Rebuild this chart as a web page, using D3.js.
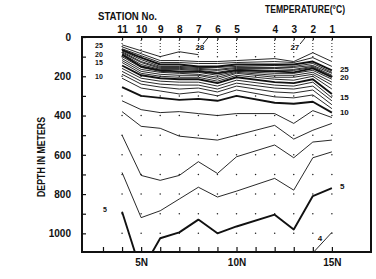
<!DOCTYPE html>
<html>
<head>
<meta charset="utf-8">
<script src="https://cdn.jsdelivr.net/npm/d3@7"></script>
<style>
  body { margin: 0; background: #fff; }
  svg text { font-family: "Liberation Sans", "DejaVu Sans Condensed", sans-serif; font-weight: bold; fill: #111; }
</style>
</head>
<body>
<svg id="chart" width="376" height="279"></svg>
<script>
// stations along the section (latitude, station number)
const stationLat = [4, 5, 6, 7, 8, 9, 10, 12, 13, 14, 15];
const stationNo = ["11", "10", "9", "8", "7", "6", "5", "4", "3", "2", "1"];
const latTicks = [3, 4, 5, 6, 7, 8, 9, 10, 11, 12, 13, 14, 15];
const latLabelled = [5, 10, 15];
const depthTicks = [0, 100, 200, 300, 400, 500, 600, 700, 800, 900, 1000];
const depthLabelled = [0, 200, 400, 600, 800, 1000];
const gridLat = [4, 5, 6, 7, 8, 9, 10, 11, 12, 13, 14, 15];
const gridDepth = [100, 200, 300, 400, 500, 600, 700, 800, 900, 1000];

// isotherm depths (m) at each station, null where the isotherm is absent
const t28 = [40, 70, 100, 75, 90, null, null, null, null, null, null];
const t27 = [50, 85, 120, 120, 125, 125, 120, 110, 125, 80, 125];
const t26 = [60, 95, 130, 130, 135, 135, 130, 125, 130, 105, 150];
const t25 = [65, 105, 140, 140, 150, 150, 140, 140, 140, 125, 170];
const t24 = [70, 115, 150, 150, 155, 155, 150, 145, 150, 135, 180];
const t23 = [75, 125, 155, 155, 160, 165, 155, 155, 155, 145, 185];
const t22 = [80, 130, 160, 160, 165, 170, 160, 160, 165, 150, 195];
const t21 = [85, 140, 165, 165, 170, 180, 165, 170, 170, 155, 200];
const t20 = [90, 150, 170, 175, 175, 185, 170, 175, 180, 160, 205];
const t19 = [100, 155, 175, 180, 180, 195, 175, 185, 185, 170, 215];
const t18 = [110, 165, 180, 185, 190, 205, 180, 195, 195, 180, 230];
const t17 = [120, 175, 190, 195, 195, 215, 185, 205, 205, 190, 245];
const t16 = [130, 185, 200, 205, 205, 225, 195, 215, 220, 200, 265];
const t15 = [145, 195, 210, 215, 215, 235, 205, 230, 235, 215, 290];
const t14 = [160, 210, 225, 230, 230, 250, 220, 245, 250, 230, 310];
const t13 = [175, 225, 240, 245, 245, 265, 235, 260, 265, 250, 325];
const t12 = [190, 240, 255, 265, 260, 280, 250, 280, 285, 270, 345];
const t11 = [210, 260, 275, 290, 280, 300, 270, 305, 310, 295, 365];
const t10 = [255, 300, 310, 320, 315, 325, 300, 335, 340, 330, 385];
const t9 = [325, 370, 385, 380, 390, 400, 390, 390, 440, 375, 410];
const t8 = [380, 455, 465, 505, 515, 525, 500, 450, 520, 475, 440];
const t7 = [500, 705, 730, 705, 635, 695, 610, 550, 615, 535, 525];
const t6 = [690, 920, 885, 825, 765, 815, 785, 720, 780, 615, 585];
const t5 = [890, 1195, 1025, 995, 930, 1000, 965, 905, 980, 810, 770];
const t4 = [null, null, null, null, null, null, null, null, null, 1100, 995];

const isotherms = [
  [28, t28], [27, t27], [26, t26], [25, t25], [24, t24], [23, t23], [22, t22],
  [21, t21], [20, t20], [19, t19], [18, t18], [17, t17], [16, t16], [15, t15],
  [14, t14], [13, t13], [12, t12], [11, t11], [10, t10], [9, t9], [8, t8],
  [7, t7], [6, t6], [5, t5], [4, t4]
];
const thickTemps = [25, 20, 15, 10, 5];

// isotherm labels: [text, depth]
const leftLabels = [["25", 43], ["20", 87], ["15", 132], ["10", 199], ["5", 880]];
const rightLabels = [["25", 163], ["20", 204], ["15", 306], ["10", 382], ["5", 759]];

const svg = d3.select("#chart");
const x = d3.scaleLinear().domain([1.9, 17.05]).range([82, 371]);
const y = d3.scaleLinear().domain([0, 1095]).range([37, 252]);

svg.append("clipPath").attr("id", "plot")
  .append("rect").attr("x", 82).attr("y", 37).attr("width", 289).attr("height", 215);

// dotted sampling grid
var g = svg.append("g").attr("clip-path", "url(#plot)");
gridLat.forEach(function (la) {
  gridDepth.forEach(function (d) {
    g.append("circle").attr("cx", x(la)).attr("cy", y(d)).attr("r", 0.75).attr("fill", "#222");
  });
});
stationLat.forEach(function (la) {
  g.append("line")
    .attr("x1", x(la)).attr("x2", x(la))
    .attr("y1", y(0)).attr("y2", y(85))
    .attr("stroke", "#222").attr("stroke-width", 1)
    .attr("stroke-dasharray", "1,2");
});

// isotherms
var line = d3.line()
  .defined(function (d) { return d[1] != null; })
  .x(function (d) { return x(d[0]); })
  .y(function (d) { return y(d[1]); });

isotherms.forEach(function (iso) {
  var pts = stationLat.map(function (la, i) { return [la, iso[1][i]]; });
  var thick = thickTemps.indexOf(iso[0]) >= 0;
  g.append("path")
    .attr("d", line(pts))
    .attr("fill", "none")
    .attr("stroke", "#111")
    .attr("stroke-width", thick ? 1.9 : 0.9)
    .attr("stroke-linejoin", "round");
});

// axes
var axL = svg.append("g").attr("transform", "translate(82,0)")
  .call(d3.axisLeft(y).tickValues(depthTicks).tickSizeInner(-4).tickSizeOuter(0).tickPadding(11)
    .tickFormat(function (d) { return depthLabelled.indexOf(d) >= 0 ? d : ""; }));
var axB = svg.append("g").attr("transform", "translate(0,252)")
  .call(d3.axisBottom(x).tickValues(latTicks).tickSizeInner(-5).tickSizeOuter(0).tickPadding(7)
    .tickFormat(function (d) { return latLabelled.indexOf(d) >= 0 ? d + "N" : ""; }));
var axT = svg.append("g").attr("transform", "translate(0,37)")
  .call(d3.axisTop(x).tickValues(stationLat).tickSizeInner(-3).tickSizeOuter(0).tickPadding(4)
    .tickFormat(function (d, i) { return stationNo[i]; }));
[axL, axB, axT].forEach(function (a) {
  a.select(".domain").remove();
  a.selectAll("line").attr("stroke", "#111").attr("stroke-width", 1.2);
  a.selectAll("text").attr("font-size", 10).attr("fill", "#111").attr("font-family", null);
});

svg.append("rect")
  .attr("x", 82).attr("y", 37).attr("width", 289).attr("height", 215)
  .attr("fill", "none").attr("stroke", "#111").attr("stroke-width", 2);

// titles
svg.append("text").attr("x", 98).attr("y", 20).attr("font-size", 10)
  .attr("textLength", 59).attr("lengthAdjust", "spacingAndGlyphs").text("STATION No.");
svg.append("text").attr("x", 265).attr("y", 13).attr("font-size", 10)
  .attr("textLength", 80).attr("lengthAdjust", "spacingAndGlyphs").text("TEMPERATURE(°C)");
svg.append("text").attr("transform", "translate(45,157) rotate(-90)")
  .attr("text-anchor", "middle").attr("font-size", 10)
  .attr("textLength", 80).attr("lengthAdjust", "spacingAndGlyphs").text("DEPTH IN METERS");

// isotherm labels
leftLabels.forEach(function (l) {
  svg.append("text").attr("x", x(l[0] === "5" ? 3.1 : 2.79)).attr("y", y(l[1]))
    .attr("dy", "0.35em").attr("text-anchor", "middle").attr("font-size", 7).text(l[0]);
});
rightLabels.forEach(function (l) {
  svg.append("text").attr("x", x(15.42)).attr("y", y(l[1]))
    .attr("dy", "0.35em").attr("font-size", 8).text(l[0]);
});

// marked isotherms with leaders
svg.append("text").attr("x", x(8.08)).attr("y", y(66)).attr("text-anchor", "middle")
  .attr("font-size", 8).attr("fill", "#111").text("28");
svg.append("line").attr("x1", x(8.24)).attr("y1", y(36)).attr("x2", x(8.5)).attr("y2", y(5))
  .attr("stroke", "#111").attr("stroke-width", 0.9);
svg.append("text").attr("x", x(13.06)).attr("y", y(66)).attr("text-anchor", "middle")
  .attr("font-size", 8).attr("fill", "#111").text("27");
svg.append("line").attr("x1", x(13.33)).attr("y1", y(36)).attr("x2", x(13.59)).attr("y2", y(5))
  .attr("stroke", "#111").attr("stroke-width", 0.9);
svg.append("text").attr("x", x(14.37)).attr("y", y(1040)).attr("text-anchor", "middle")
  .attr("font-size", 8).attr("fill", "#111").text("4");
</script>
</body>
</html>
